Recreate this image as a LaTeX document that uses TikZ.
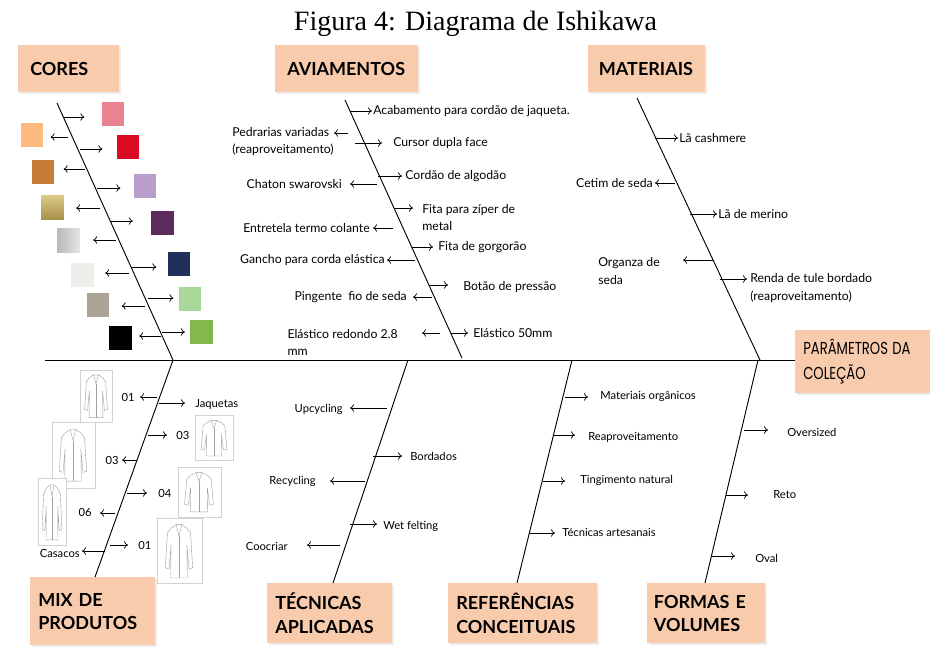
\documentclass[tikz,border=0pt]{standalone}
\usepackage{fontspec}
\setmainfont{Lato}
\newfontfamily\titlefont{Liberation Serif}
\newfontfamily\decofont{Poppins}
\usetikzlibrary{arrows.meta,shadows}
\definecolor{boxfill}{HTML}{F8CBAD}
\definecolor{cpink}{HTML}{E8838F}
\definecolor{cpeach}{HTML}{FDBB7F}
\definecolor{cred}{HTML}{DA0A22}
\definecolor{cbrown}{HTML}{C67B36}
\definecolor{clav}{HTML}{B99DCB}
\definecolor{cgoldhi}{HTML}{DCCB88}
\definecolor{cgoldlo}{HTML}{A8914A}
\definecolor{cpurple}{HTML}{5C2A5D}
\definecolor{cnavy}{HTML}{21305A}
\definecolor{cwhite}{HTML}{EEEEEA}
\definecolor{cltgreen}{HTML}{A9D79C}
\definecolor{ctaupe}{HTML}{ACA295}
\definecolor{cgreen}{HTML}{85B84A}
\tikzset{
  box/.style={fill=boxfill, anchor=north west, align=left, inner xsep=6pt,
    font=\fontsize{13.5}{17.5}\selectfont\bfseries,
    drop shadow={opacity=0.15, shadow xshift=1.2pt, shadow yshift=-1.2pt}},
  lbl/.style={inner sep=0pt, align=left, font=\fontsize{9.2}{13}\selectfont},
  lbls/.style={inner sep=0pt, align=left, font=\fontsize{8.4}{12}\selectfont},
  twig/.style={-{To[length=3pt,width=5.5pt]}, line width=0.55pt},
  bone/.style={line width=0.7pt},
  swatch/.style={minimum width=17pt, minimum height=18pt, inner sep=0pt},
  frame/.style={draw=gray!35, fill=white, line width=0.5pt},
  sketch/.style={draw=gray!75, line width=0.3pt},
  garment/.pic={
    \draw[sketch] (0.42,0.06) -- (0.28,0.12) -- (0.18,0.2) -- (0.12,0.78) -- (0.22,0.8)
      -- (0.28,0.4) -- (0.27,0.95) -- (0.73,0.95) -- (0.72,0.4) -- (0.78,0.8)
      -- (0.88,0.78) -- (0.82,0.2) -- (0.72,0.12) -- (0.58,0.06) -- cycle;
    \draw[sketch] (0.42,0.06) -- (0.5,0.25) -- (0.58,0.06);
    \draw[sketch] (0.5,0.25) -- (0.5,0.95);
  }
}
\begin{document}
\begin{tikzpicture}[x=0.75pt, y=-0.75pt]
  \useasboundingbox (0,0) rectangle (930,646);
  \node[font=\titlefont\fontsize{21}{24}\selectfont, anchor=base] (title) at (475.5,30) {Figura 4: Diagrama de Ishikawa};

  \node[box, inner xsep=9pt, text width=57.75pt, minimum height=35.25pt] (cores) at (18,45) {CORES};
  \node[box, inner xsep=9pt, text width=89.25pt, minimum height=35.25pt] (avia) at (275,45) {AVIAMENTOS};
  \node[box, inner xsep=8pt, text width=71.75pt, minimum height=35.25pt] (mate) at (588,45) {MATERIAIS};
  \node[box, inner xsep=6pt, text width=89.25pt, minimum height=47.25pt,
    font=\decofont\fontsize{13}{18.5}\selectfont] (param) at (795,330)
    {\scalebox{0.76}[1]{PARÂMETROS DA}\\\scalebox{0.76}[1]{COLEÇÃO}};
  \node[box, text width=81.75pt, minimum height=51pt] (mix) at (30,577) {MIX DE\\PRODUTOS};
  \node[box, text width=81.75pt, minimum height=45pt] (tec) at (267,583) {TÉCNICAS\\APLICADAS};
  \node[box, text width=99.75pt, minimum height=45pt] (ref) at (448,583) {REFERÊNCIAS\\CONCEITUAIS};
  \node[box, inner xsep=5pt, text width=78.5pt, minimum height=45pt] (form) at (647,583) {FORMAS E\\VOLUMES};

  \coordinate (spine) at (45,360);
  \coordinate (coresA) at (57,103);
  \coordinate (coresB) at (173,360);
  \coordinate (aviaA) at (345,100);
  \coordinate (aviaB) at (462,358);
  \coordinate (mateA) at (637,98);
  \coordinate (mateB) at (760,360);
  \coordinate (mixA) at (173,360);
  \coordinate (mixB) at (95,577);
  \coordinate (tecA) at (408,360);
  \coordinate (tecB) at (333,583);
  \coordinate (refA) at (572,360);
  \coordinate (refB) at (517,583);
  \coordinate (formA) at (758,360);
  \coordinate (formB) at (705,583);
  \begin{scope}[bone]
    \draw (spine) to (spine -| param.west);
    \draw (coresA) to (coresB);
    \draw (aviaA) to (aviaB);
    \draw (mateA) to (mateB);
    \draw (mixA) to (mixB);
    \draw (tecA) to (tecB);
    \draw (refA) to (refB);
    \draw (formA) to (formB);
  \end{scope}

  \node[swatch, fill=cpink] (sq1) at (113,114) {};
  \node[swatch, fill=cpeach] (sq2) at (32,135) {};
  \node[swatch, fill=cred] (sq3) at (128,147) {};
  \node[swatch, fill=cbrown] (sq4) at (43,172) {};
  \node[swatch, fill=clav] (sq5) at (145,185.5) {};
  \node[swatch, top color=cgoldhi, bottom color=cgoldlo] (sq6) at (52.5,207) {};
  \node[swatch, fill=cpurple] (sq7) at (162.5,222.5) {};
  \node[swatch, left color=gray!55, right color=gray!20] (sq8) at (68.5,240.5) {};
  \node[swatch, fill=cnavy] (sq9) at (179,264) {};
  \node[swatch, fill=cwhite] (sq10) at (82.5,274.5) {};
  \node[swatch, fill=cltgreen] (sq11) at (190,298.5) {};
  \node[swatch, fill=ctaupe] (sq12) at (98,304.5) {};
  \node[swatch, fill=cgreen] (sq13) at (201.5,331.5) {};
  \node[swatch, fill=black] (sq14) at (120.5,337.5) {};
  \coordinate (c1) at (63,117);
  \coordinate (c2) at (68,137);
  \coordinate (c3) at (80,149);
  \coordinate (c4) at (85,169);
  \coordinate (c5) at (97,188);
  \coordinate (c6) at (100,208);
  \coordinate (c7) at (110,221);
  \coordinate (c8) at (116,240);
  \coordinate (c9) at (132,267);
  \coordinate (c10) at (129,273);
  \coordinate (c11) at (148,298);
  \coordinate (c12) at (145,306);
  \coordinate (c13) at (162,332);
  \coordinate (c14) at (161,336);
  \begin{scope}[twig]
    \draw[shorten >=12.75pt] (c1) to (c1 -| sq1.west);
    \draw[shorten >=5.25pt] (c2) to (c2 -| sq2.east);
    \draw[shorten >=10.5pt] (c3) to (c3 -| sq3.west);
    \draw[shorten >=6.75pt] (c4) to (c4 -| sq4.east);
    \draw[shorten >=9.75pt] (c5) to (c5 -| sq5.west);
    \draw[shorten >=9pt] (c6) to (c6 -| sq6.east);
    \draw[shorten >=13.5pt] (c7) to (c7 -| sq7.west);
    \draw[shorten >=9.75pt] (c8) to (c8 -| sq8.east);
    \draw[shorten >=8.25pt] (c9) to (c9 -| sq9.west);
    \draw[shorten >=8.25pt] (c10) to (c10 -| sq10.east);
    \draw[shorten >=3.75pt] (c11) to (c11 -| sq11.west);
    \draw[shorten >=9pt] (c12) to (c12 -| sq12.east);
    \draw[shorten >=3.75pt] (c13) to (c13 -| sq13.west);
    \draw[shorten >=5.25pt] (c14) to (c14 -| sq14.east);
  \end{scope}

  \node[lbl, anchor=west] (acab) at (373,111) {Acabamento para cordão de jaqueta.};
  \node[lbl, anchor=east] (pedr) at (334,141.5) {Pedrarias variadas\\(reaproveitamento)};
  \node[lbl, anchor=west] (curs) at (393,143) {Cursor dupla face};
  \node[lbl, anchor=west] (cord) at (405,176) {Cordão de algodão};
  \node[lbl, anchor=east] (chat) at (342,184) {Chaton swarovski};
  \node[lbl, anchor=west] (zipe) at (422,217.5) {Fita para zíper de\\metal};
  \node[lbl, anchor=east] (entr) at (370,228) {Entretela termo colante};
  \node[lbl, anchor=west] (gorg) at (438,247) {Fita de gorgorão};
  \node[lbl, anchor=east] (ganc) at (385,260) {Gancho para corda elástica};
  \node[lbl, anchor=west] (bota) at (463,287) {Botão de pressão};
  \node[lbl, anchor=east] (ping) at (407,297) {Pingente\ \ fio de seda};
  \node[lbl, anchor=east] (elar) at (398,342.5) {Elástico redondo 2.8\\mm};
  \node[lbl, anchor=west] (elas) at (473,333) {Elástico 50mm};
  \coordinate (a1) at (350,111);
  \coordinate (a2) at (348,133);
  \coordinate (a3) at (355,143);
  \coordinate (a4) at (378,176);
  \coordinate (a5) at (377,184);
  \coordinate (a6) at (395,208);
  \coordinate (a7) at (393,228);
  \coordinate (a8) at (412,247);
  \coordinate (a9) at (415,260);
  \coordinate (a10) at (430,285);
  \coordinate (a11) at (432,297);
  \coordinate (a12) at (440,333);
  \coordinate (a13) at (451,333);
  \begin{scope}[twig]
    \draw[shorten >=0.75pt] (a1) to (a1 -| acab.west);
    \draw (a2) to (a2 -| pedr.east);
    \draw[shorten >=8.25pt] (a3) to (a3 -| curs.west);
    \draw[shorten >=2.25pt] (a4) to (a4 -| cord.west);
    \draw[shorten >=6pt] (a5) to (a5 -| chat.east);
    \draw[shorten >=6.75pt] (a6) to (a6 -| zipe.west);
    \draw[shorten >=2.25pt] (a7) to (a7 -| entr.east);
    \draw[shorten >=3.75pt] (a8) to (a8 -| gorg.west);
    \draw[shorten >=1.5pt] (a9) to (a9 -| ganc.east);
    \draw[shorten >=11.25pt] (a10) to (a10 -| bota.west);
    \draw[shorten >=4.5pt] (a11) to (a11 -| ping.east);
    \draw[shorten >=18pt] (a12) to (a12 -| elar.east);
    \draw[shorten >=3.75pt] (a13) to (a13 -| elas.west);
  \end{scope}

  \node[lbl, anchor=west] (cash) at (679,138) {Lã cashmere};
  \node[lbl, anchor=east] (ceti) at (653,183) {Cetim de seda};
  \node[lbl, anchor=west] (meri) at (718,214) {Lã de merino};
  \node[lbl, anchor=east] (orga) at (660,271) {Organza de\\seda};
  \node[lbl, anchor=west] (rend) at (750,288) {Renda de tule bordado\\(reaproveitamento)};
  \coordinate (m1) at (655,138);
  \coordinate (m2) at (675,183);
  \coordinate (m3) at (690,214);
  \coordinate (m4) at (713,260);
  \coordinate (m5) at (720,279);
  \begin{scope}[twig]
    \draw[shorten >=0.75pt] (m1) to (m1 -| cash.west);
    \draw[shorten >=1.5pt] (m2) to (m2 -| ceti.east);
    \draw[shorten >=0.75pt] (m3) to (m3 -| meri.west);
    \draw[shorten >=17.25pt] (m4) to (m4 -| orga.east);
    \draw[shorten >=2.25pt] (m5) to (m5 -| rend.west);
  \end{scope}

  \draw[frame] (80,370) rectangle (112,422);
  \pic[xscale=30,yscale=48] at (81,372) {garment};
  \draw[frame] (52,422) rectangle (95,488);
  \pic[xscale=36,yscale=58] at (55,426) {garment};
  \draw[frame] (38,478) rectangle (66,545);
  \pic[xscale=26,yscale=62] at (39,481) {garment};
  \draw[frame] (195,415) rectangle (233,460);
  \pic[xscale=34,yscale=40] at (197,418) {garment};
  \draw[frame] (178,467) rectangle (221,517);
  \pic[xscale=38,yscale=44] at (180,470) {garment};
  \draw[frame] (157,518) rectangle (202,583);
  \pic[xscale=36,yscale=60] at (161,521) {garment};

  \node[lbls, anchor=east] (n01a) at (135,397) {01};
  \node[lbls, anchor=west] (jaqu) at (195,404) {Jaquetas};
  \node[lbls, anchor=west] (n03a) at (176,435) {03};
  \node[lbls, anchor=east] (n03b) at (119,460) {03};
  \node[lbls, anchor=west] (n04) at (158,493) {04};
  \node[lbls, anchor=east] (n06) at (92,512) {06};
  \node[lbls, anchor=west] (n01b) at (138,545) {01};
  \node[lbls, anchor=east] (casa) at (80,553) {Casacos};
  \coordinate (x1) at (157,397);
  \coordinate (x2) at (159,403);
  \coordinate (x3) at (148,435);
  \coordinate (x4) at (137,460);
  \coordinate (x5) at (127,493);
  \coordinate (x6) at (115,513);
  \coordinate (x7) at (110,545);
  \coordinate (x8) at (105,551);
  \begin{scope}[twig]
    \draw[shorten >=3.75pt] (x1) to (x1 -| n01a.east);
    \draw[shorten >=7.5pt] (x2) to (x2 -| jaqu.west);
    \draw[shorten >=6.75pt] (x3) to (x3 -| n03a.west);
    \draw[shorten >=2.25pt] (x4) to (x4 -| n03b.east);
    \draw[shorten >=8.25pt] (x5) to (x5 -| n04.west);
    \draw[shorten >=6pt] (x6) to (x6 -| n06.east);
    \draw[shorten >=7.5pt] (x7) to (x7 -| n01b.west);
    \draw[shorten >=1.5pt] (x8) to (x8 -| casa.east);
  \end{scope}

  \node[lbls, anchor=east] (upcy) at (343,409) {Upcycling};
  \node[lbls, anchor=west] (bord) at (410,456) {Bordados};
  \node[lbls, anchor=east] (recy) at (316,481) {Recycling};
  \node[lbls, anchor=west] (wetf) at (383,526) {Wet felting};
  \node[lbls, anchor=east] (cooc) at (288,546) {Coocriar};
  \coordinate (t1) at (387,408);
  \coordinate (t2) at (373,456);
  \coordinate (t3) at (365,481);
  \coordinate (t4) at (350,524);
  \coordinate (t5) at (340,545);
  \begin{scope}[twig]
    \draw[shorten >=5.25pt] (t1) to (t1 -| upcy.east);
    \draw[shorten >=6pt] (t2) to (t2 -| bord.west);
    \draw[shorten >=10.5pt] (t3) to (t3 -| recy.east);
    \draw[shorten >=4.5pt] (t4) to (t4 -| wetf.west);
    \draw[shorten >=14.25pt] (t5) to (t5 -| cooc.east);
  \end{scope}

  \node[lbls, anchor=west] (morg) at (600,396) {Materiais orgânicos};
  \node[lbls, anchor=west] (reap) at (588,437) {Reaproveitamento};
  \node[lbls, anchor=west] (ting) at (580,480) {Tingimento natural};
  \node[lbls, anchor=west] (tart) at (562,532) {Técnicas artesanais};
  \coordinate (r1) at (565,397);
  \coordinate (r2) at (553,435);
  \coordinate (r3) at (543,481);
  \coordinate (r4) at (530,533);
  \begin{scope}[twig]
    \draw[shorten >=9pt] (r1) to (r1 -| morg.west);
    \draw[shorten >=9.75pt] (r2) to (r2 -| reap.west);
    \draw[shorten >=11.25pt] (r3) to (r3 -| ting.west);
    \draw[shorten >=5.25pt] (r4) to (r4 -| tart.west);
  \end{scope}

  \node[lbls, anchor=west] (over) at (787,432) {Oversized};
  \node[lbls, anchor=west] (reto) at (773,495) {Reto};
  \node[lbls, anchor=west] (oval) at (755,558) {Oval};
  \coordinate (f1) at (744,430);
  \coordinate (f2) at (726,495);
  \coordinate (f3) at (712,556);
  \begin{scope}[twig]
    \draw[shorten >=14.25pt] (f1) to (f1 -| over.west);
    \draw[shorten >=18.75pt] (f2) to (f2 -| reto.west);
    \draw[shorten >=15pt] (f3) to (f3 -| oval.west);
  \end{scope}
\end{tikzpicture}
\end{document}
